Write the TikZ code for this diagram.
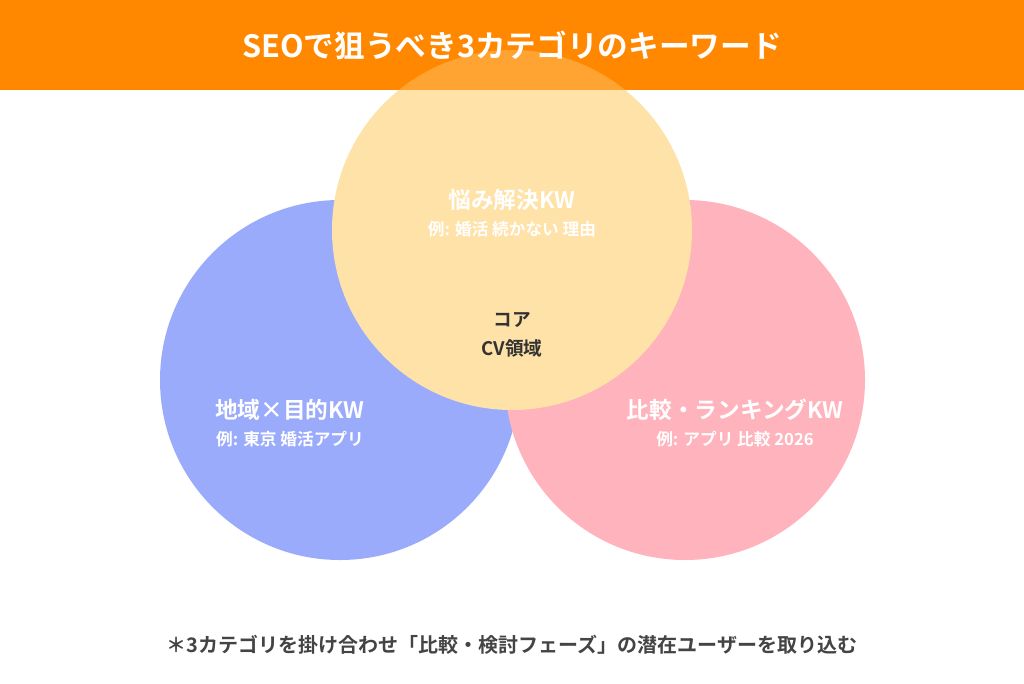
\documentclass[tikz,border=0pt]{standalone}
\usepackage{fontspec}
\setmainfont{Noto Sans CJK JP}[BoldFont={* Bold}]
\usetikzlibrary{positioning}
\definecolor{headorange}{HTML}{FF8800}
\definecolor{areablue}{HTML}{9AABFB}
\definecolor{areapink}{HTML}{FFB3BC}
\definecolor{areayellow}{HTML}{FFE2A8}
\definecolor{textdark}{HTML}{333333}
\definecolor{textgray}{HTML}{444444}
\tikzset{
  kwtitle/.style={text=white, font=\bfseries\fontsize{17}{20}\selectfont},
  kwexample/.style={text=white, font=\bfseries\fontsize{12.5}{15}\selectfont},
}
\begin{document}
\begin{tikzpicture}[x=0.75pt,y=-0.75pt]
    \useasboundingbox[fill=white] (0,0) rectangle (1024,683);
    % circles
    \fill[areablue] (340,380) circle[radius=135pt];
    \fill[areapink] (685,380) circle[radius=135pt];
    \fill[areayellow] (512,230) circle[radius=135pt];
    % header
    \fill[headorange] (0,0) rectangle (1024,90);
    \begin{scope}
      \clip (0,0) rectangle (1024,90);
      \fill[areayellow, opacity=0.3] (512,230) circle[radius=135pt];
    \end{scope}
    \node[text=white, font=\bfseries\fontsize{23}{27}\selectfont] (title) at (512,45) {SEOで狙うべき3カテゴリのキーワード};
    % labels
    \node[kwtitle] (solve) at (512,200) {悩み解決KW};
    \node[kwexample, below=1pt of solve] (solveex) {例: 婚活 続かない 理由};
    \node[kwtitle] (local) at (290,410) {地域×目的KW};
    \node[kwexample, below=1pt of local] (localex) {例: 東京 婚活アプリ};
    \node[kwtitle] (rank) at (735,410) {比較・ランキングKW};
    \node[kwexample, below=1pt of rank] (rankex) {例: アプリ 比較 2026};
    \node[text=textdark, font=\bfseries\fontsize{14}{22}\selectfont, align=center] (core) at (512,335) {コア\\CV領域};
    \node[text=textgray, font=\bfseries\fontsize{15}{18}\selectfont] (note) at (512,645) {＊3カテゴリを掛け合わせ「比較・検討フェーズ」の潜在ユーザーを取り込む};
\end{tikzpicture}
\end{document}
